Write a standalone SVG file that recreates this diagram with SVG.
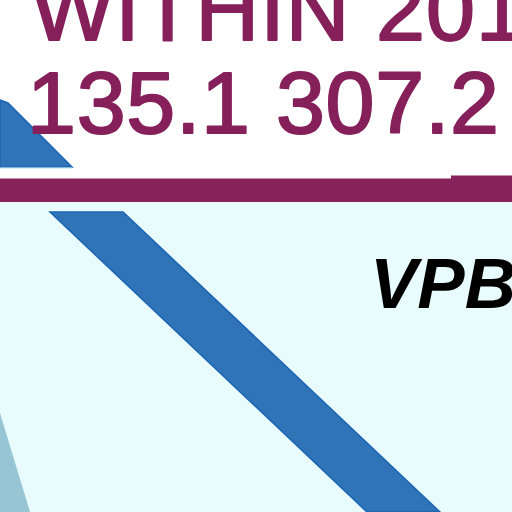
<svg xmlns="http://www.w3.org/2000/svg" width="512" height="512" viewBox="0 0 512 512">
<style>
.maroon{fill:#88225A;}
.title{font-family:"Liberation Sans",Arial,sans-serif;font-size:88px;fill:#86205A;stroke:#86205A;stroke-width:2;stroke-linejoin:round;}
.band{fill:#2E74B7;stroke:#1C64B4;stroke-width:1.5;}
.label{font-family:"Liberation Sans",Arial,sans-serif;font-size:71px;font-weight:bold;font-style:italic;fill:#000;}
</style>
<rect x="0" y="0" width="512" height="512" fill="#FFFFFF"/>
<rect x="0" y="202" width="512" height="310" fill="#E8FCFE"/>
<g id="top-triangle">
<polygon class="band" points="0,100 8,103 72,167 0,167"/>
<line x1="0" y1="168" x2="72" y2="168" stroke="#BFE3F2" stroke-width="1"/>
</g>
<g id="header-bar">
<rect class="maroon" x="0" y="178.5" width="512" height="23.5"/>
<rect class="maroon" x="451" y="175.5" width="61" height="4"/>
</g>
<g id="title">
<text class="title" x="31" y="40" textLength="494" lengthAdjust="spacing">WITHIN 201</text>
<text class="title" x="27" y="133" textLength="472" lengthAdjust="spacing">135.1 307.2</text>
</g>
<g id="diagonal-band">
<polygon class="band" points="50,212 123,212 440,512 367,512"/>
</g>
<g id="lower-left-shape">
<polygon points="0,413 30,512 0,512" fill="#98C5D3"/>
</g>
<g id="vpb-label">
<text class="label" x="370" y="308">VPB</text>
</g>
</svg>
